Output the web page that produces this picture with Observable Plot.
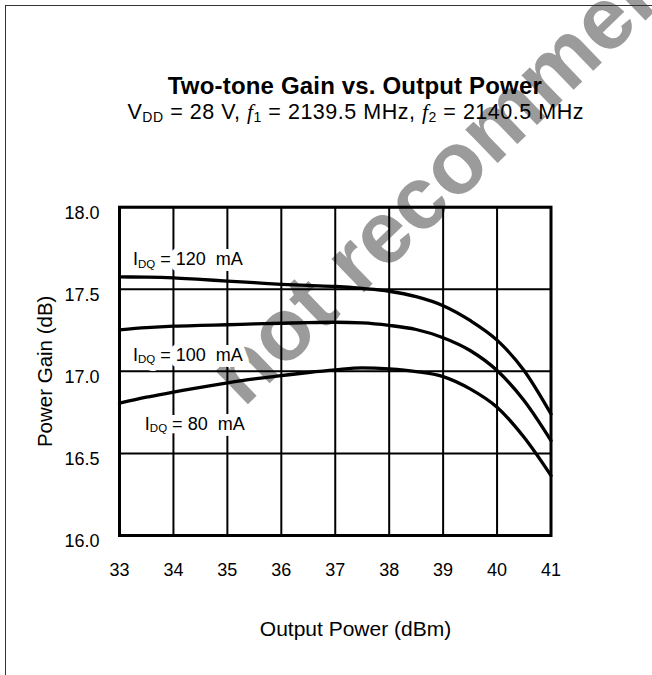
<!DOCTYPE html>
<html><head><meta charset="utf-8">
<script src="https://cdn.jsdelivr.net/npm/d3@7"></script>
<script src="https://cdn.jsdelivr.net/npm/@observablehq/plot@0.6"></script>
<style>
body{margin:0;background:#fff;}
#wrap{position:relative;width:652px;height:675px;overflow:hidden;background:#fff;}
#wrap svg{position:absolute;left:0;top:0;}
#border{position:absolute;left:5px;top:5px;width:800px;height:800px;border-left:1px solid #333;border-top:1px solid #333;pointer-events:none;}
</style></head><body><div id="wrap"></div>
<script>
// ---- data ----
const powerOut = [33, 33.5, 34, 34.5, 35, 35.5, 36, 36.5, 37, 37.5, 38, 38.5, 39, 39.5, 40, 40.5, 41];
const gain120 = [17.575, 17.574, 17.570, 17.560, 17.550, 17.540, 17.530, 17.523, 17.517, 17.505, 17.488, 17.455, 17.400, 17.310, 17.190, 17.005, 16.740];
const gain100 = [17.253, 17.266, 17.275, 17.280, 17.284, 17.289, 17.293, 17.297, 17.299, 17.295, 17.280, 17.255, 17.205, 17.127, 17.005, 16.822, 16.578];
const gain80  = [16.806, 16.843, 16.873, 16.903, 16.930, 16.954, 16.974, 16.993, 17.009, 17.021, 17.015, 16.999, 16.968, 16.893, 16.781, 16.598, 16.365];
const seriesNames = ["120 mA", "100 mA", "80 mA"];
const xTicks = [33, 34, 35, 36, 37, 38, 39, 40, 41];
const yTicks = [16.0, 16.5, 17.0, 17.5, 18.0];
const labelText = ["I_{DQ} = 120  mA", "I_{DQ} = 100  mA", "I_{DQ} = 80  mA"];
const labelX = [33.25, 33.25, 33.47];
const labelY = [17.645, 17.066, 16.645];
const titleText = "Two-tone Gain vs. Output Power";
const subtitleText = "V_{DD} = 28 V, *f*_{1} = 2139.5 MHz, *f*_{2} = 2140.5 MHz";
const xLabel = "Output Power (dBm)";
const yLabel = "Power Gain (dB)";
const watermark = "not recommended";

// ---- tables built from the arrays ----
const gains = [gain120, gain100, gain80];
const rows = [];
seriesNames.forEach((s, k) => powerOut.forEach((p, i) => rows.push({series: s, p, g: gains[k][i]})));
const labels = labelText.map((t, i) => ({t, x: labelX[i], y: labelY[i]}));

const FONT = "Liberation Sans, Arial, Helvetica, sans-serif";
const ML = 119, MR = 101.5, MT = 206.7, MB = 140, W = 652, H = 675;
const cx = ML + (W - ML - MR) / 2;

const chart = Plot.plot({
  width: W, height: H,
  marginLeft: ML, marginRight: MR, marginTop: MT, marginBottom: MB,
  style: {fontFamily: FONT, fontSize: "18px", color: "black", background: "transparent", overflow: "visible"},
  x: {domain: [33, 41]},
  y: {domain: [16, 18]},
  marks: [
    Plot.text([watermark], {text: d => d, frameAnchor: "top-left", dx: 243 - ML, dy: 408 - MT, rotate: -44,
      textAnchor: "start", lineAnchor: "bottom", fontSize: 88, fontWeight: "bold", fill: "#9b9b9b"}),
    Plot.ruleX(xTicks, {x: d => d, stroke: "black", strokeWidth: 2, strokeOpacity: 1}),
    Plot.ruleY(yTicks, {y: d => d, stroke: "black", strokeWidth: 2, strokeOpacity: 1}),
    Plot.text(labels, {x: "x", y: "y", text: "t", textAnchor: "start", lineAnchor: "bottom", fontSize: 18,
      fill: "white", stroke: "white", strokeWidth: 12}),
    Plot.text(labels, {x: "x", y: "y", text: "t", textAnchor: "start", lineAnchor: "bottom", fontSize: 18,
      fill: "black"}),
    Plot.line(rows, {x: "p", y: "g", z: "series", stroke: "black", strokeWidth: 3.3, curve: "monotone-x"}),
    Plot.frame({stroke: "black", strokeWidth: 3}),
    Plot.axisX({ticks: xTicks, tickSize: 0, tickPadding: 28, label: null, fontSize: 18}),
    Plot.axisY({ticks: yTicks, tickSize: 0, tickPadding: 20, tickFormat: d => d.toFixed(1), dy: 6, label: null, fontSize: 18}),
    Plot.text([titleText], {text: d => d, frameAnchor: "top", dx: 354.3 - cx, dy: 93 - MT, lineAnchor: "bottom",
      textAnchor: "middle", fontSize: 24, fontWeight: "bold", fill: "black"}),
    Plot.text([subtitleText], {text: d => d, frameAnchor: "top", dx: 355 - cx, dy: 118 - MT, lineAnchor: "bottom",
      textAnchor: "middle", fontSize: 21.5, fill: "black"}),
    Plot.text([xLabel], {text: d => d, frameAnchor: "bottom", dx: 355 - cx, dy: 635 - (H - MB), lineAnchor: "bottom",
      textAnchor: "middle", fontSize: 21, fill: "black"}),
    Plot.text([yLabel], {text: d => d, frameAnchor: "left", dx: 44.7 - ML, dy: 0, rotate: -90, lineAnchor: "middle",
      textAnchor: "middle", fontSize: 20.5, fill: "black"})
  ]
});

// rich text: _{sub} and *italic*
function richify(el, fs) {
  const s = el.textContent;
  if (!/_\{|\*/.test(s)) return;
  const subFs = fs > 20 ? 14 : 11.5;
  const shift = fs > 20 ? 3.5 : 2.5;
  el.textContent = "";
  const re = /_\{([^}]*)\}|\*([^*]*)\*|([^_*]+)/g;
  let m, shifted = false;
  while ((m = re.exec(s))) {
    const t = d3.select(el).append("tspan");
    if (m[1] != null) {
      t.text(m[1]).attr("font-size", subFs).attr("dy", shifted ? 0 : shift);
      shifted = true;
    } else {
      if (shifted) { t.attr("dy", -shift); shifted = false; }
      if (m[2] != null) t.text(m[2]).attr("font-style", "italic").attr("font-family", "Liberation Serif, Times New Roman, serif");
      else t.text(m[3]);
    }
  }
}
const svg = d3.select(chart);
svg.selectAll("text").each(function() {
  const txt = this.textContent;
  if (txt === titleText) { this.setAttribute("textLength", 374); this.setAttribute("lengthAdjust", "spacing"); return; }
  if (txt === subtitleText) { richify(this, 21.5); this.setAttribute("textLength", 456); this.setAttribute("lengthAdjust", "spacing"); return; }
  richify(this, 18);
});

const wrap = document.getElementById("wrap");
wrap.appendChild(chart);
const b = document.createElement("div"); b.id = "border"; wrap.appendChild(b);
</script>
</body></html>
